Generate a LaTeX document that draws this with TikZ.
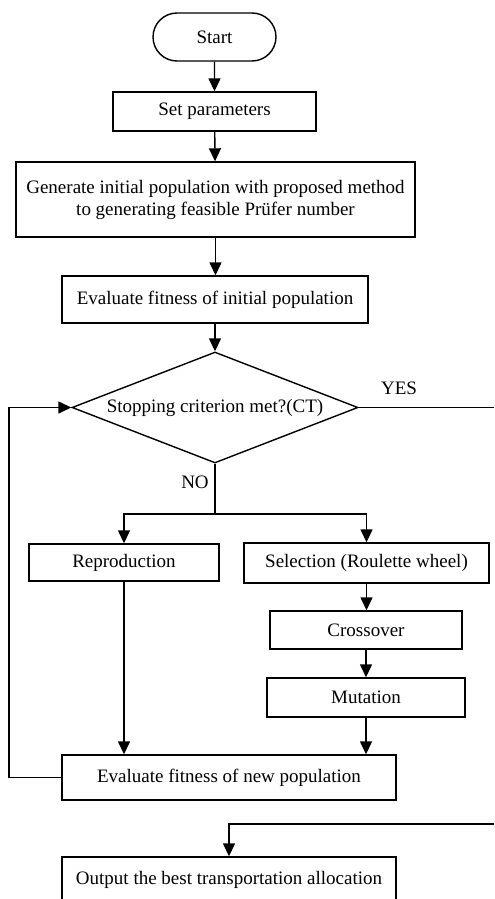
\documentclass[tikz,border=0pt]{standalone}
\usepackage{fontspec}
\setmainfont{Liberation Serif}
\usetikzlibrary{shapes.geometric,shapes.misc,arrows.meta}
\begin{document}
\begin{tikzpicture}[x=0.5pt,y=-0.5pt,
  every node/.style={font=\fontsize{9.5}{11}\selectfont},
  box/.style={draw,line width=0.7pt,inner sep=0pt,align=center},
  term/.style={box,rounded rectangle},
  dec/.style={box,diamond,aspect=2.58},
  conn/.style={line width=0.7pt},
  arr/.style={conn,-{Triangle[length=6.5pt,width=6pt]}},
  lbl/.style={inner sep=0pt}]
\useasboundingbox (0,0) rectangle (494,899);
\clip (0,0) rectangle (494,899);
\node[term,minimum width=61.5pt,minimum height=24pt] (start) at (214.5,37) {Start};
\node[box,minimum width=101.5pt,minimum height=19.5pt] (set) at (214.5,111.5) {Set parameters};
\node[box,minimum width=199.5pt,minimum height=37.5pt] (gen) at (215.5,199.5) {Generate initial population with proposed method\\to generating feasible Prüfer number};
\node[box,minimum width=153pt,minimum height=23.5pt] (evi) at (215,299.5) {Evaluate fitness of initial population};
\node[dec,minimum width=143pt,minimum height=55.5pt] (dia) at (215,407.5) {Stopping criterion met?(CT)};
\node[box,minimum width=95pt,minimum height=18.5pt] (rep) at (124,562.5) {Reproduction};
\node[box,minimum width=122.5pt,minimum height=20pt] (sel) at (366.5,563) {Selection (Roulette wheel)};
\node[box,minimum width=96pt,minimum height=19pt] (cro) at (366,630) {Crossover};
\node[box,minimum width=99pt,minimum height=19.5pt] (mut) at (366,697.5) {Mutation};
\node[box,minimum width=167pt,minimum height=22.5pt] (evn) at (229,777.5) {Evaluate fitness of new population};
\node[box,minimum width=167pt,minimum height=22.5pt] (out) at (229,879.5) {Output the best transportation allocation};
\node[lbl] (yes) at (399,388) {YES};
\node[lbl] (no) at (195,482) {NO};
\coordinate (br) at (215,514);
\coordinate (yend) at (494,407.5);
\coordinate (oin) at (494,824);
\coordinate (lp) at (9,777.5);
\draw[arr] (start) -- (set);
\draw[arr] (set) -- (gen);
\draw[arr] (gen.south) -- (gen.south |- evi.north);
\draw[arr] (evi.south) -- (evi.south |- dia.north);
\draw[conn] (dia.south) -- (br);
\draw[arr] (br) -| (rep.north);
\draw[arr] (br) -| (sel.north);
\draw[arr] (sel.south) -- (sel.south |- cro.north);
\draw[arr] (cro) -- (mut);
\draw[arr] (mut.south) -- (mut.south |- evn.north);
\draw[arr] (rep.south) -- (rep.south |- evn.north);
\draw[arr] (evn.west) -- (lp) |- (dia.west);
\draw[conn] (dia.east) -- (yend);
\draw[arr] (oin) -| (out.north);
\end{tikzpicture}
\end{document}
